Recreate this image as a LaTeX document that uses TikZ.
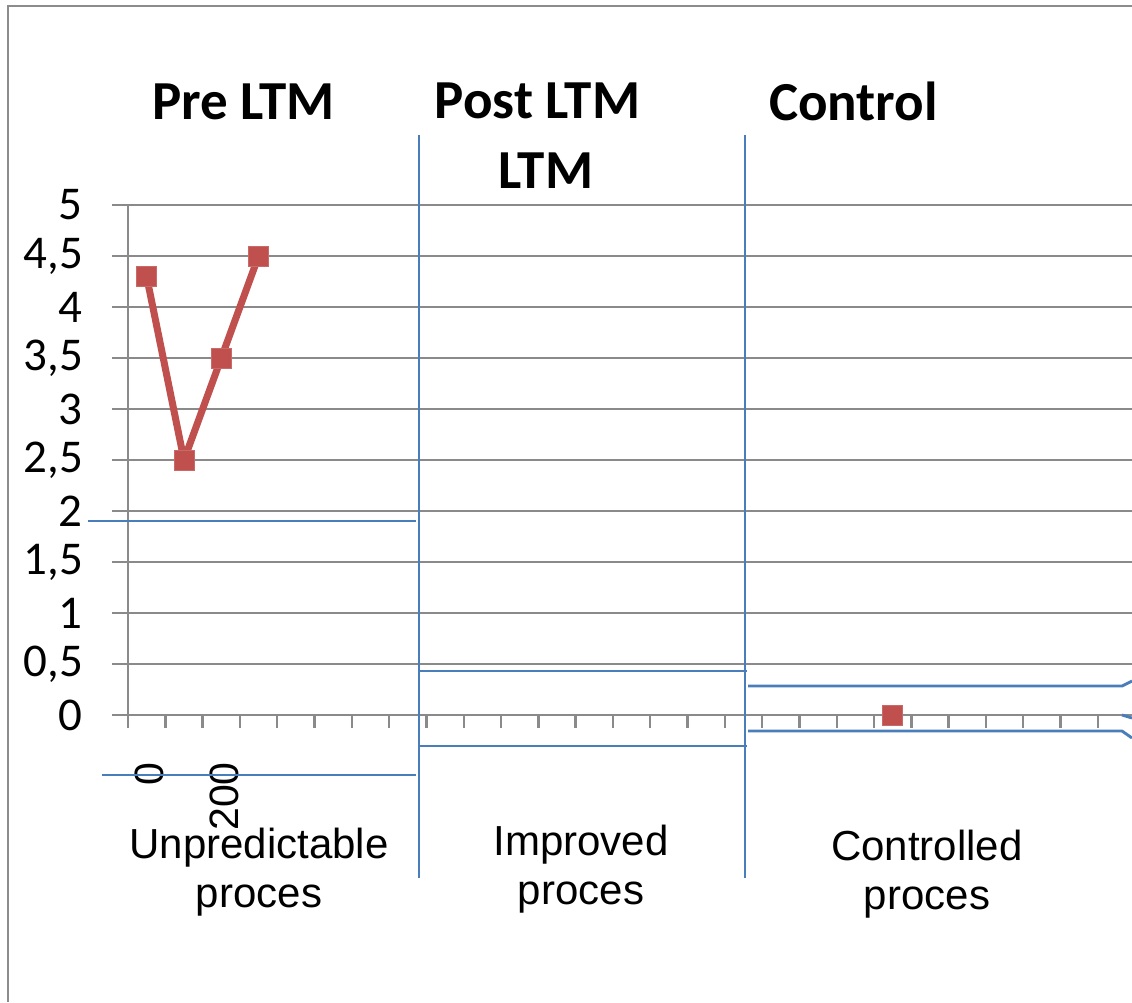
\documentclass[tikz,border=0pt]{standalone}
\usepackage{fontspec}
\newfontfamily\calibri{Carlito}
\newfontfamily\arial{Liberation Sans}
\definecolor{gridgray}{HTML}{8A8A8A}
\definecolor{framegray}{HTML}{8C8C8C}
\definecolor{seriesred}{HTML}{C0504D}
\definecolor{guideblue}{HTML}{4A7EBB}
\begin{document}
\begin{tikzpicture}[x=1pt,y=-1pt,
  gridline/.style={draw=gridgray, line width=2.4pt},
  guide/.style={draw=guideblue, line width=2.9pt},
  heading/.style={font=\calibri\bfseries\fontsize{55}{66}\selectfont, inner sep=0, anchor=base},
  ylab/.style={font=\calibri\fontsize{47}{56}\selectfont, inner sep=0, anchor=east},
  catlab/.style={font=\arial\fontsize{42}{49}\selectfont, inner sep=0, anchor=base},
  xlab/.style={font=\arial\fontsize{41}{49}\selectfont, inner sep=0, rotate=90, anchor=base east},
  marksq/.style={rectangle, fill=seriesred, draw=seriesred!85!white, line width=0.8pt, minimum size=20pt, inner sep=0}]
\useasboundingbox (0,0) rectangle (1132,1002);
\fill[white] (0,0) rectangle (1132,1002);

% chart frame
\draw[draw=framegray, line width=1.8pt] (8,1002) -- (8,6) -- (1132,6);

% horizontal grid lines and value axis
\foreach \v in {0,0.5,...,5.01}
  \draw[gridline] (112,{715-102*\v}) -- (1132,{715-102*\v});
\draw[gridline] (128,205) -- (128,728);
\foreach \k in {1,...,26}
  \draw[gridline] ({128+37.3*\k},715) -- ++(0,13);

% value labels
\foreach \v/\t [count=\i] in {0/0,0.5/{0,5},1/1,1.5/{1,5},2/2,2.5/{2,5},3/3,3.5/{3,5},4/4,4.5/{4,5},5/5}
  \node[ylab] (yl\i) at (83,{715-102*\v}) {\t};

% headings
\node[heading] (hpre) at (243.5,119) {Pre LTM};
\node[heading] (hpost) at (537.5,118) {Post LTM};
\node[heading] (hpost2) at (546,188) {LTM};
\node[heading] (hctrl) at (853.5,120) {Control};

% rotated category labels
\node[xlab] (x0) at (163,762) {0};
\node[xlab] (x200) at (238,762) {200};

% phase labels
\node[catlab] (c1a) at (259,858) {Unpredictable};
\node[catlab] (c1b) at (259,907) {proces};
\node[catlab] (c2a) at (581,855) {Improved};
\node[catlab] (c2b) at (581,904) {proces};
\node[catlab] (c3a) at (927,860) {Controlled};
\node[catlab] (c3b) at (927,909) {proces};

% phase separators and bands
\draw[guide] (88,521) -- (416,521);
\draw[guide] (102,775) -- (416,775);
\draw[guide] (419,135) -- (419,878);
\draw[guide] (419,671) -- (747,671);
\draw[guide] (419,746) -- (747,746);
\draw[guide] (745,135) -- (745,878);
\draw[guide] (748,686) -- (1122,686) -- (1132,681);
\draw[guide] (748,731) -- (1122,731) -- (1132,738);
\draw[guide] (1122,715) -- (1132,718);

% data series
\coordinate (d1) at (146.6,276.4);
\coordinate (d2) at (184,460);
\coordinate (d3) at (221.3,358);
\coordinate (d4) at (258.6,256);
\coordinate (d5) at (892.6,715);
\draw[seriesred, line width=7pt, line join=round] (d1) -- (d2) -- (d3) -- (d4);
\foreach \i in {1,...,5}
  \node[marksq] (m\i) at (d\i) {};
\end{tikzpicture}
\end{document}
